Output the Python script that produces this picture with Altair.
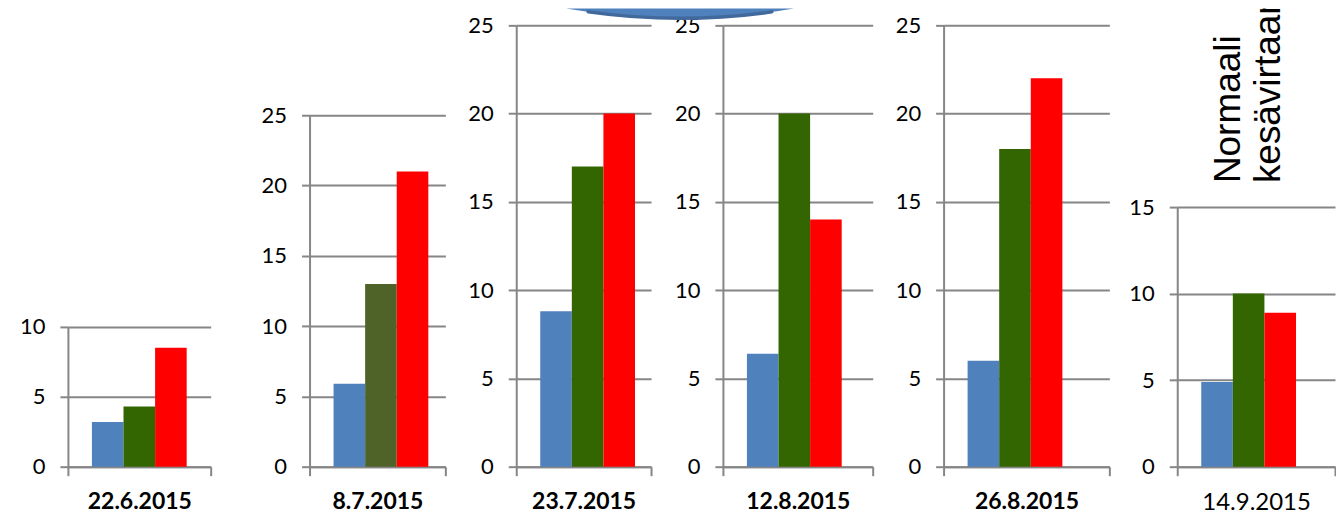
import altair as alt
import pandas as pd

# ---------------- data ----------------
dates = ["22.6.2015", "8.7.2015", "23.7.2015", "12.8.2015", "26.8.2015", "14.9.2015"]
series = ["s1", "s2", "s3"]
blue_vals = [3.2, 5.9, 8.8, 6.4, 6.0, 4.9]
green_vals = [4.3, 13.0, 17.0, 20.0, 18.0, 10.0]
red_vals = [8.5, 21.0, 20.0, 14.0, 22.0, 8.9]
y_max = [10, 25, 25, 25, 25, 15]
note_text = ["Normaali\nkesävirtaama"]

# ---------------- styles ----------------
blue_color = "#4F81BD"
red_color = "#FF0000"
green_colors = ["#336600", "#4F6228", "#336600", "#336600", "#336600", "#336600"]
label_weights = ["bold", "bold", "bold", "bold", "bold", "normal"]
label_sizes = [23, 23, 23, 23, 23, 24]
gray = "#868686"

# ---------------- layout (pixels) ----------------
H = 459
panel_widths = [143, 136, 135, 150, 166, 158]
gaps = [99, 71, 72, 71, 68]
axis_tops = [319, 107, 17, 17, 17, 199]
outer_pad = [0.76, 0.72, 0.70, 0.73, 0.74, 0.71]

cap_path = "M -1 0 Q 0 0.1754 1 0 Z"
rim_path = "M -0.806 0.0307 Q 0 0.1447 0.806 0.0307"


def panel(i):
    df = pd.DataFrame({
        "date": [dates[i]] * 3,
        "series": series,
        "value": [blue_vals[i], green_vals[i], red_vals[i]],
        "color": [blue_color, green_colors[i], red_color],
    })
    ticks = list(range(0, y_max[i] + 1, 5))
    bars = alt.Chart(df).mark_bar().encode(
        x=alt.X("date:N",
                scale=alt.Scale(paddingInner=0, paddingOuter=0),
                axis=alt.Axis(title=None, labelAngle=0, tickBand="extent",
                              domainColor=gray, domainWidth=2,
                              tickColor=gray, tickWidth=2, tickSize=9,
                              labelFont="Lato", labelFontSize=label_sizes[i],
                              labelFontWeight=label_weights[i],
                              labelColor="black", labelPadding=15,
                              labelLimit=0, grid=False)),
        xOffset=alt.XOffset("series:N", sort=series,
                            scale=alt.Scale(paddingInner=0, paddingOuter=outer_pad[i])),
        y=alt.Y("value:Q",
                scale=alt.Scale(domain=[0, y_max[i]], range=[H, axis_tops[i]], nice=False),
                axis=alt.Axis(title=None, values=ticks,
                              domainColor=gray, domainWidth=2,
                              tickColor=gray, tickWidth=2, tickSize=8,
                              gridColor=gray, gridWidth=2, grid=True,
                              labelFont="Lato", labelFontSize=22,
                              labelColor="black", labelPadding=15)),
        color=alt.Color("color:N", scale=None, legend=None),
    ).properties(width=panel_widths[i], height=H)

    layers = [bars]
    if i == 3:
        one = pd.DataFrame({"k": [0]})
        cap = alt.Chart(one).mark_point(
            shape=cap_path, size=51984, filled=True, fill=blue_color,
            strokeWidth=0, opacity=1
        ).encode(x=alt.value(-43), y=alt.value(0))
        rim = alt.Chart(one).mark_point(
            shape=rim_path, size=51984, filled=False, color="#41699B",
            strokeWidth=3.5, strokeJoin="round", strokeCap="round", opacity=1
        ).encode(x=alt.value(-43), y=alt.value(0))
        layers += [cap, rim]
    if i == 5:
        note = alt.Chart(pd.DataFrame({"t": note_text})).mark_text(
            angle=270, align="left", baseline="alphabetic",
            font="Liberation Sans", fontSize=37, lineBreak="\n",
            lineHeight=40, clip=True, color="black"
        ).encode(text="t:N", x=alt.value(63), y=alt.value(175))
        layers.append(note)
    if len(layers) == 1:
        return bars
    return alt.layer(*layers).properties(width=panel_widths[i], height=H)


def spacer(w):
    return alt.Chart(pd.DataFrame({"k": [0]})).mark_point(opacity=0).encode(
        x=alt.value(w / 2), y=alt.value(H / 2)
    ).properties(width=w, height=H)


items = []
for i in range(6):
    items.append(panel(i))
    if i < 5:
        items.append(spacer(gaps[i]))

chart = alt.hconcat(*items, spacing=0, bounds="flush").properties(
    padding={"left": 11, "top": 0, "right": 0, "bottom": 0},
    background="white",
).configure_view(stroke="transparent", strokeWidth=0)

chart.save("out.html", embed_options={"renderer": "svg", "actions": False})
